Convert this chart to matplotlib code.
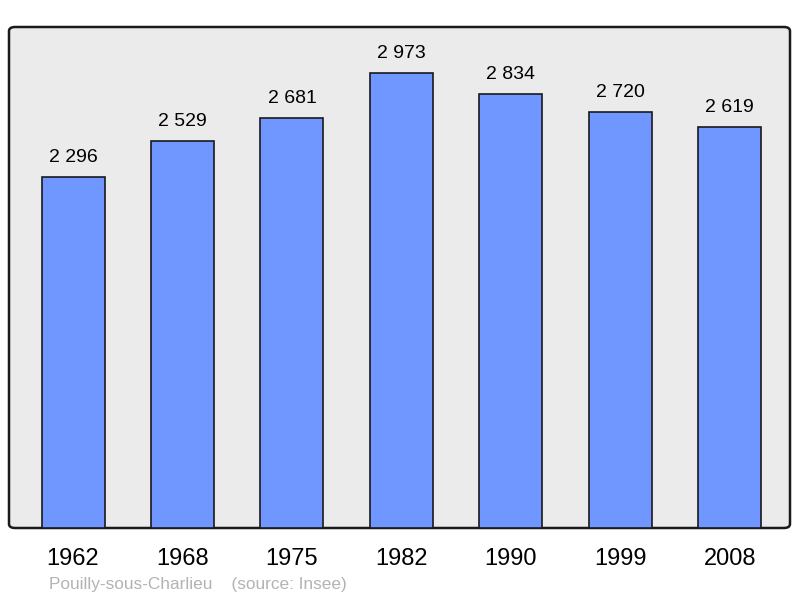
import matplotlib
matplotlib.use("Agg")
import matplotlib.pyplot as plt
from matplotlib.patches import FancyBboxPatch

years = ["1962", "1968", "1975", "1982", "1990", "1999", "2008"]
population = [2296, 2529, 2681, 2973, 2834, 2720, 2619]
labels = ["2 296", "2 529", "2 681", "2 973", "2 834", "2 720", "2 619"]

plt.rcParams['font.family'] = ['Liberation Sans', 'DejaVu Sans']

fig = plt.figure(figsize=(8.0, 5.98), dpi=100)
W, H = 800, 598
left, right, top, bottom = 9, 790, 27, 528
ax = fig.add_axes([left / W, 1 - bottom / H, (right - left) / W, (bottom - top) / H])
ax.set_xlim(-0.585, 6.55)
ax.set_ylim(0, 3275)
for s in ax.spines.values():
    s.set_visible(False)
ax.set_xticks([])
ax.set_yticks([])
ax.patch.set_visible(False)

bg = FancyBboxPatch((0, 0), 1, 1, boxstyle="round,pad=0,rounding_size=0.008",
                    transform=ax.transAxes, facecolor="#ebebeb", edgecolor="#1a1a1a",
                    linewidth=1.8, zorder=0, clip_on=False)
ax.add_patch(bg)

x = list(range(len(years)))
ax.bar(x, population, width=0.576, color="#7096ff", edgecolor="#1a1a1a",
       linewidth=1.2, zorder=2)
for xi, v, lab in zip(x, population, labels):
    ax.annotate(lab, (xi, v), xytext=(0, 8), textcoords="offset points",
                ha="center", va="bottom", fontsize=14, color="#000000")
for xi, y in zip(x, years):
    ax.annotate(y, (xi, 0), xytext=(0, -14.5), textcoords="offset points",
                ha="center", va="top", fontsize=17, color="#000000")

fig.text(49 / W, 1 - 584.5 / H, "Pouilly-sous-Charlieu    (source: Insee)",
         ha="left", va="center", fontsize=12.4, color="#b3b3b3")

fig.savefig("out.png", dpi=100)
